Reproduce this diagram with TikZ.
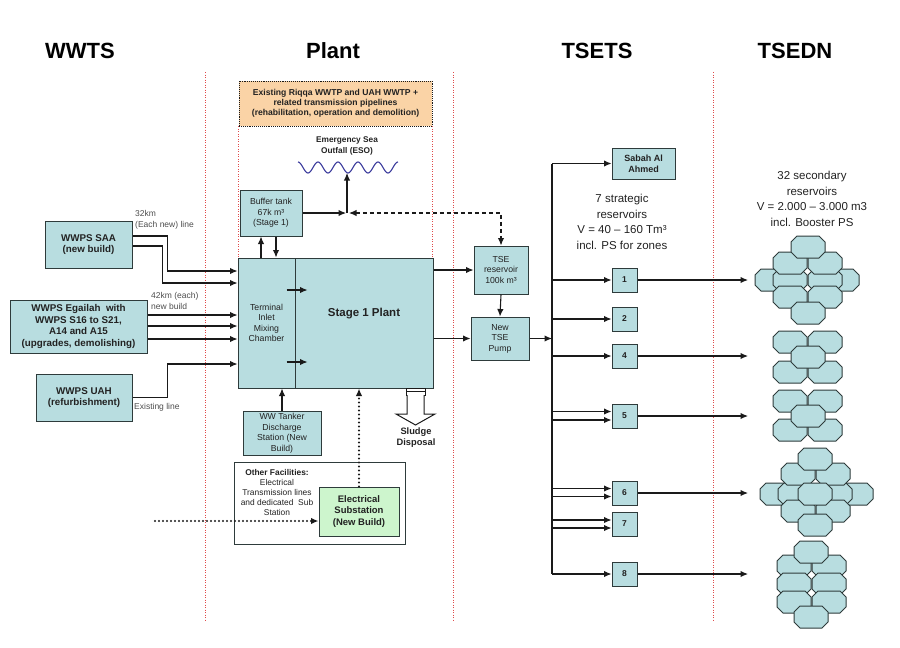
\documentclass[tikz,border=0pt]{standalone}
\usepackage{fontspec}
\setmainfont{Liberation Sans}
\usetikzlibrary{arrows.meta, positioning, calc}
\definecolor{wteal}{HTML}{B8DDE0}
\definecolor{wedge}{HTML}{2E3B3B}
\definecolor{wpeach}{HTML}{FAD3A6}
\definecolor{wgreen}{HTML}{CDF5CD}
\definecolor{wline}{HTML}{1A1A1A}
\definecolor{wsep}{HTML}{E04A4A}
\definecolor{wwave}{HTML}{3A3A9C}
\definecolor{wtext}{HTML}{222222}
\definecolor{wgray}{HTML}{4D4D4D}
\tikzset{
  tbox/.style={draw=wedge, fill=wteal, line width=1pt, align=center,
               inner sep=1pt, text=wtext, font=\fontsize{8.7}{10.5}\selectfont},
  tboxb/.style={tbox, font=\fontsize{9.8}{11.8}\selectfont\bfseries},
  numbox/.style={tbox, minimum width=25pt, minimum height=24pt,
                 font=\fontsize{8.5}{10}\selectfont\bfseries},
  obox/.style={draw=wline, densely dotted, fill=wpeach, line width=0.9pt, align=center,
               inner sep=1pt, text=wtext, font=\fontsize{8.6}{10}\selectfont\bfseries},
  gbox/.style={tbox, fill=wgreen, font=\fontsize{9.5}{11.3}\selectfont\bfseries},
  wbox/.style={draw=wedge, fill=white, line width=1pt},
  heading/.style={font=\fontsize{22}{26}\selectfont\bfseries, text=black},
  ptext/.style={align=center, text=wtext, inner sep=0pt},
  ltext/.style={align=left, text=wgray, inner sep=0pt, font=\fontsize{8.5}{11}\selectfont},
  pipe/.style={line width=1.1pt, wline},
  arr/.style={-{Latex[length=7.5pt, width=6.5pt]}, line width=1.1pt, wline},
  darr/.style={{Latex[length=7.5pt, width=6.5pt]}-{Latex[length=7.5pt, width=6.5pt]},
               line width=1.1pt, wline, dash pattern=on 4pt off 3pt},
  dotarr/.style={-{Latex[length=7.5pt, width=6.5pt]}, line width=2.4pt, wline,
                 line cap=round, dash pattern=on 0pt off 4pt},
  sepline/.style={wsep, line width=1pt, dash pattern=on 1pt off 1.5pt},
  resvline/.style={draw=wedge, fill=wteal, line width=1pt},
  resv/.pic={\draw[resvline] (-17,-5) -- (-11,-11) -- (11,-11) -- (17,-5)
                -- (17,5) -- (11,11) -- (-11,11) -- (-17,5) -- cycle;},
}
\begin{document}
\begin{tikzpicture}[x=1pt, y=-1pt]
  \useasboundingbox (0,0) rectangle (900,648);

  %% ── Column headings ──
  \node[heading] (hwwts)  at (80,51)  {WWTS};
  \node[heading] (hplant) at (333,51) {Plant};
  \node[heading] (htsets) at (597,51) {TSETS};
  \node[heading] (htsedn) at (795,51) {TSEDN};

  %% ── Column separators ──
  \foreach \sx in {205,453,713}{
    \draw[sepline] (\sx,72) -- (\sx,622);
  }

  %% ═══════════ WWTS: pumping stations ═══════════
  \node[tboxb, minimum width=87pt, minimum height=47pt] (saa) at (88.5,244.5)
    {WWPS SAA\\(new build)};
  \node[tboxb, minimum width=137pt, minimum height=53pt] (egl) at (78.5,326.5)
    {WWPS Egailah~ with\\WWPS S16 to S21,\\A14 and A15\\(upgrades, demolishing)};
  \node[tboxb, minimum width=96pt, minimum height=47pt] (uah) at (84,397.5)
    {WWPS UAH\\(refurbishment)};

  %% Line labels
  \node[ltext, anchor=north west] (l32) at (135,210) {32km\\(Each new) line};
  \node[ltext, anchor=north west] (l42) at (151,292) {42km (each)\\new build};
  \node[ltext, anchor=west] (lex) at (134,407) {Existing line};

  %% ═══════════ PLANT ═══════════
  \node[obox, minimum width=193pt, minimum height=45pt] (exist) at (335.5,103.5)
    {Existing Riqqa WWTP and UAH WWTP +\\related transmission pipelines\\(rehabilitation, operation and demolition)};

  %% Emergency sea outfall
  \node[ptext, font=\fontsize{8.3}{11}\selectfont\bfseries] (esotxt) at (347,146)
    {Emergency Sea\\Outfall (ESO)};
  \draw[wwave, line width=1.1pt] plot[domain=298:398, samples=121]
    (\x, {167.5-5.5*cos(18*(\x-298))});
  \coordinate (esotip) at (347,173);
  \coordinate (esoj) at (347,213);

  %% Plant blocks
  \node[tbox, minimum width=62pt, minimum height=46pt] (buffer) at (271,213)
    {Buffer tank\\67k m³\\(Stage 1)};
  \node[tbox, minimum width=57pt, minimum height=130pt] (inlet) at (266.5,323)
    {Terminal\\Inlet\\Mixing\\Chamber};
  \node[tbox, minimum width=138pt, minimum height=130pt,
        font=\fontsize{11.5}{13}\selectfont\bfseries] (stage) at (364,323)
    {Stage 1 Plant\\[8pt]};
  \node[tbox, minimum width=78pt, minimum height=44pt] (tanker) at (282,433)
    {WW Tanker\\Discharge\\Station (New\\Build)};

  %% Dotted sides of the existing works
  \draw[sepline] (exist.south west) -- (exist.south west |- inlet.north);
  \draw[sepline] (exist.south east) -- (exist.south east |- stage.north);

  %% Buffer tank links
  \draw[arr] ([xshift=-10pt]buffer.south |- inlet.north) -- ([xshift=-10pt]buffer.south);
  \draw[arr] ([xshift=5pt]buffer.south) -- ([xshift=5pt]buffer.south |- inlet.north);
  \draw[arr] (buffer.east) -- ([xshift=-1pt]esoj);
  \draw[arr] (esoj) -- (esotip);

  %% Inflows to the inlet chamber
  \draw[arr] ([yshift=8.5pt]saa.east) -| ([xshift=-70pt, yshift=52pt]inlet.west)
    -- ([yshift=52pt]inlet.west);
  \draw[arr] ([yshift=-1.5pt]saa.east) -| ([xshift=-75pt, yshift=40pt]inlet.west)
    -- ([yshift=40pt]inlet.west);
  \foreach \dy in {11.5,0.5,-12.5}{
    \draw[arr] ([yshift=\dy pt]egl.east) -- ([yshift=\dy pt]egl.east -| inlet.west);
  }
  \draw[arr] (uah.east) -| ([xshift=-70pt, yshift=-41pt]inlet.west)
    -- ([yshift=-41pt]inlet.west);
  \draw[arr] (tanker.north) -- (tanker.north |- inlet.south);

  %% Chamber to plant
  \draw[arr] ([xshift=-8pt, yshift=33pt]stage.west) -- ([xshift=13pt, yshift=33pt]stage.west);
  \draw[arr] ([xshift=-8pt, yshift=-39pt]stage.west) -- ([xshift=13pt, yshift=-39pt]stage.west);

  %% Sludge disposal
  \draw[wline, line width=0.9pt, fill=white] (406,388) rectangle (425,395);
  \draw[wline, line width=1.5pt] (406,391.5) -- (425,391.5);
  \draw[wline, line width=1pt, fill=white] (407,395) -- (407,414) -- (396,414)
    -- (415.5,425) -- (435,414) -- (424,414) -- (424,395);
  \node[ptext, font=\fontsize{9.3}{11}\selectfont\bfseries] (sludge) at (416,438)
    {Sludge\\Disposal};

  %% Other facilities
  \node[wbox, minimum width=171pt, minimum height=82pt] (other) at (319.5,503) {};
  \node[ptext, font=\fontsize{8.4}{10}\selectfont] (othtxt) at (277,492)
    {{\bfseries Other Facilities:}\\Electrical\\Transmission lines\\and dedicated~ Sub\\Station};
  \node[gbox, minimum width=80pt, minimum height=49pt] (subst) at (359,511.5)
    {Electrical\\Substation\\(New Build)};
  \coordinate (elin) at (155,521);
  \draw[dotarr] (elin) -- (subst.west |- elin);
  \draw[dotarr] (subst.north) -- (subst.north |- stage.south);

  %% ═══════════ TSETS ═══════════
  \node[tbox, minimum width=54pt, minimum height=48pt] (tser) at (501,270)
    {TSE\\reservoir\\100k m³};
  \node[tbox, minimum width=58pt, minimum height=43pt] (pump) at (500,338.5)
    {New\\TSE\\Pump};
  \draw[arr] (stage.east |- tser.west) -- (tser.west);
  \draw[arr] (stage.east |- pump.west) -- (pump.west);
  \draw[arr] (tser.south) -- (pump.north);
  \draw[darr] ([xshift=2pt]esoj) -| (tser.north);

  %% Distribution bus
  \coordinate (bustop) at (552,163.5);
  \coordinate (busbot) at (552,574);
  \draw[pipe] (bustop) -- (busbot);
  \draw[arr] (pump.east) -- (pump.east -| bustop);

  \node[tbox, minimum width=63pt, minimum height=31pt,
        font=\fontsize{9}{10.7}\selectfont\bfseries] (sabah) at (643.5,163.5)
    {Sabah Al\\Ahmed};
  \draw[arr] (bustop) -- (sabah.west);

  \node[ptext, font=\fontsize{11.5}{15.5}\selectfont] (strat) at (622,222)
    {7 strategic\\reservoirs\\V = 40 – 160 Tm³\\incl. PS for zones};

  %% Strategic reservoirs
  \foreach \n/\ry in {1/280, 2/319, 4/356, 5/416, 6/493, 7/524, 8/574}{
    \node[numbox] (r\n) at (624.5,\ry) {\n};
  }
  \foreach \n in {1,2,4,8}{
    \draw[arr] (bustop |- r\n.west) -- (r\n.west);
  }
  \foreach \n/\dy in {5/4.5, 5/-4, 6/4.5, 6/-3.5, 7/4, 7/-4}{
    \draw[arr] ([yshift=\dy pt]r\n.west -| bustop) -- ([yshift=\dy pt]r\n.west);
  }

  %% ═══════════ TSEDN ═══════════
  \node[ptext, font=\fontsize{11.5}{15.5}\selectfont] (sec) at (812,199)
    {32 secondary\\reservoirs\\V = 2.000 – 3.000 m3\\incl. Booster PS};
  \coordinate (resin) at (748,300);
  \foreach \n in {1,4,5,6,8}{
    \draw[arr] (r\n.east) -- (r\n.east -| resin);
  }

  %% Secondary reservoir groups
  \foreach \cx/\cy in {772/280, 842/280, 790/280, 825/280, 790/263, 825/263,
                       790/297, 825/297, 808/247, 808/313}{
    \pic at (\cx,\cy) {resv};
  }
  \foreach \cx/\cy in {790/342, 825/342, 790/372, 825/372, 808/357}{
    \pic at (\cx,\cy) {resv};
  }
  \foreach \cx/\cy in {790/401, 825/401, 790/430, 825/430, 808/416}{
    \pic at (\cx,\cy) {resv};
  }
  \foreach \cx/\cy in {777/494, 856/494, 795/494, 835/494, 798/474, 833/474,
                       798/511, 833/511, 815/459, 815/525, 815/494}{
    \pic at (\cx,\cy) {resv};
  }
  \foreach \cx/\cy in {794/566, 829/566, 794/584, 829/584, 794/602, 829/602,
                       811/552, 811/617}{
    \pic at (\cx,\cy) {resv};
  }

\end{tikzpicture}
\end{document}
